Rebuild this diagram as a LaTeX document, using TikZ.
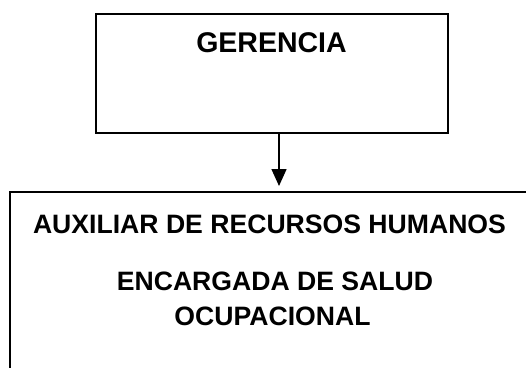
\documentclass[tikz,border=0pt]{standalone}
\usepackage{fontspec}
\setmainfont{Liberation Sans}
\usetikzlibrary{arrows.meta}
\begin{document}
\begin{tikzpicture}[x=1pt,y=-1pt,
  boxstyle/.style={draw=black,line width=2pt,rectangle,inner sep=0pt},
  bigtext/.style={font=\fontsize{28.5}{32}\selectfont\bfseries,inner sep=0pt,anchor=base},
  midtext/.style={font=\fontsize{26.6}{30}\selectfont\bfseries,inner sep=0pt,anchor=base},
  link/.style={line width=1.5pt,shorten >=5pt,-{Triangle[length=17pt,width=15pt]}}]
\useasboundingbox (0,0) rectangle (526,367);
\clip (0,0) rectangle (526,367);
\node[boxstyle,minimum width=352pt,minimum height=119pt] (ger) at (272,73.5) {};
\node[boxstyle,minimum width=524pt,minimum height=220pt] (aux) at (272,302) {};
\node[bigtext] (tger) at (271.5,52) {GERENCIA};
\node[midtext] (taux) at (269.5,233) {AUXILIAR DE RECURSOS HUMANOS};
\node[midtext] (tenc) at (275,290) {ENCARGADA DE SALUD};
\node[midtext] (tocu) at (272.5,325) {OCUPACIONAL};
\coordinate (a1) at (ger.south -| 279,0);
\coordinate (a2) at (aux.north -| 279,0);
\draw[link] (a1) -- (a2);
\end{tikzpicture}
\end{document}
